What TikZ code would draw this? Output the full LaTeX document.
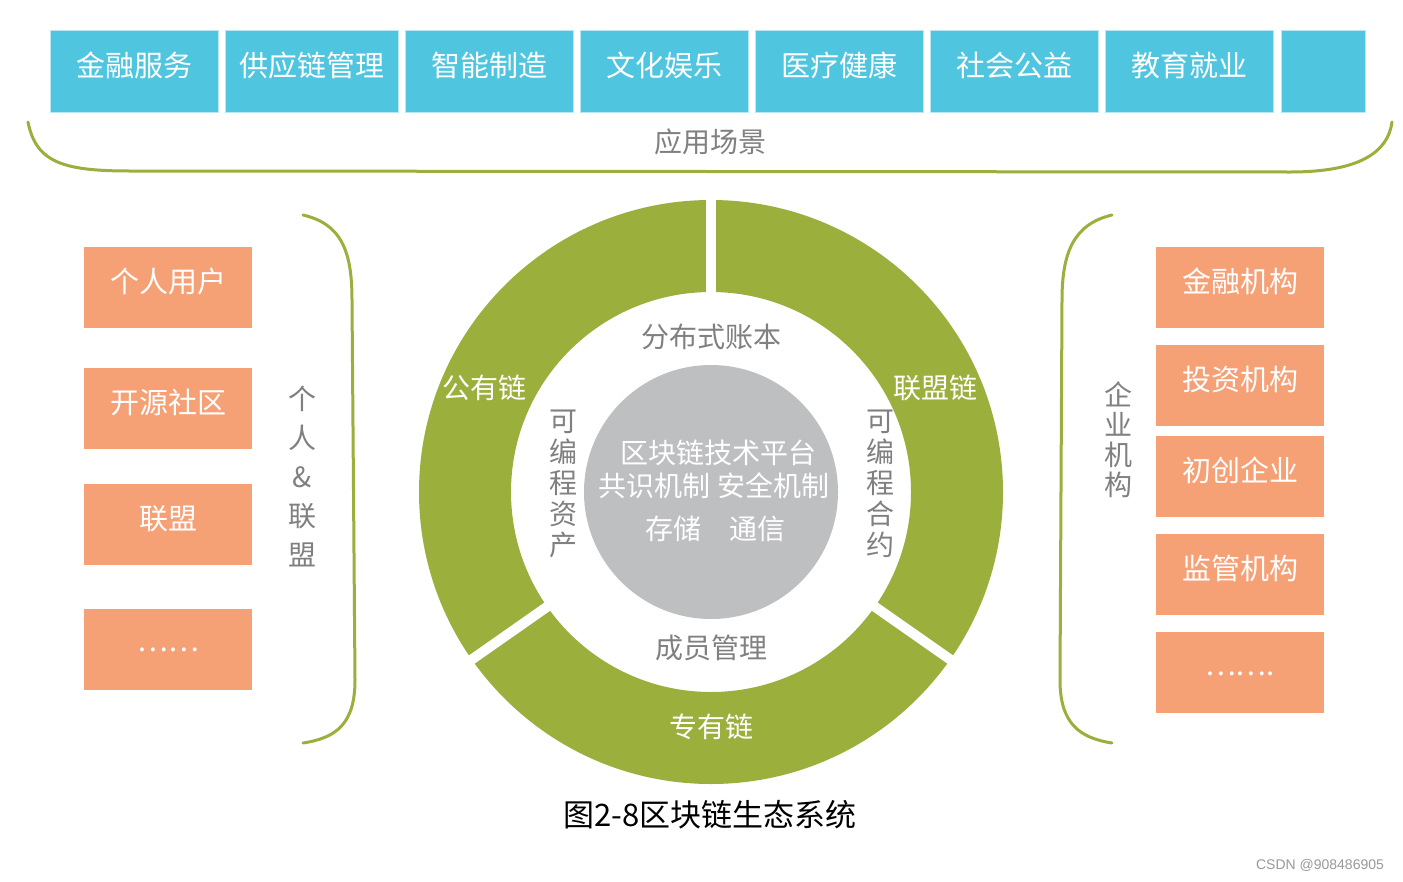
\documentclass[tikz,border=0pt]{standalone}
\usepackage{fontspec}
\setmainfont{Noto Sans CJK SC}
\newfontfamily\latinfont{Liberation Sans}
\usetikzlibrary{calc}
\definecolor{ringgreen}{RGB}{155,175,60}
\definecolor{sceneblue}{RGB}{80,197,223}
\definecolor{roleorange}{RGB}{246,160,118}
\definecolor{coregray}{RGB}{190,191,193}
\definecolor{labelgray}{RGB}{128,128,128}
\newcommand{\fsz}[1]{\fontsize{#1}{#1}\selectfont}

\begin{document}
\begin{tikzpicture}[x=1pt, y=-1pt,
    scenebox/.style={fill=sceneblue, draw=white!60!sceneblue, line width=0.8pt, minimum height=82pt, inner sep=0pt, text=white, font=\fsz{29}, text height=25pt, text depth=15pt},
    rolebox/.style={fill=roleorange, minimum width=168pt, minimum height=81pt, inner sep=0pt, text=white, font=\fsz{29}, text height=25pt, text depth=15pt},
    bracket/.style={ringgreen, line width=3pt, line cap=round},
    graytext/.style={labelgray, font=\fsz{28}, inner sep=0pt},
    whitetext/.style={white, font=\fsz{28}, inner sep=0pt}]
    \useasboundingbox[fill=white] (0,0) rectangle (1403,881);

    % Application scenes
    \node[scenebox, minimum width=168pt] (finance) at (134,71) {金融服务};
    \node[scenebox, minimum width=173pt] (supply) at (311.5,71) {供应链管理};
    \node[scenebox, minimum width=168pt] (manufact) at (489,71) {智能制造};
    \node[scenebox, minimum width=168pt] (culture) at (664,71) {文化娱乐};
    \node[scenebox, minimum width=168pt] (health) at (839,71) {医疗健康};
    \node[scenebox, minimum width=168pt] (welfare) at (1014,71) {社会公益};
    \node[scenebox, minimum width=168pt] (education) at (1189.5,71) {教育就业};
    \node[scenebox, minimum width=84pt] (more) at (1323,71) {};

    % Bracket under the scenes
    \draw[bracket] (28,122) .. controls (36,162) and (62,171) .. (130,171) -- (1290,172) .. controls (1360,172) and (1388,152) .. (1392,122);
    \node[graytext] (scenes) at (710,142) {应用场景};

    % Ring of chains
    \coordinate (hub) at (711,492);
    \fill[ringgreen, even odd rule] (hub) circle[radius=292pt] (hub) circle[radius=200pt];
    \foreach \a in {90,215,325}
        \draw[white, line width=10pt] ($(hub)+(\a:195pt)$) -- ($(hub)+(\a:298pt)$);
    \node[whitetext] (public) at (484,388) {公有链};
    \node[whitetext] (consortium) at (935,388) {联盟链};
    \node[whitetext] (private) at (711,727) {专有链};

    % Inner layer
    \node[graytext] (ledger) at (711,337) {分布式账本};
    \node[graytext] (members) at (711,648) {成员管理};
    \node[graytext, align=center, font=\fontsize{28}{31}\selectfont] (assets) at (563,484) {可\\编\\程\\资\\产};
    \node[graytext, align=center, font=\fontsize{28}{31}\selectfont] (contracts) at (880,484) {可\\编\\程\\合\\约};

    % Core platform
    \node[circle, fill=coregray, minimum size=254pt, inner sep=0pt] (core) at (hub) {};
    \node[whitetext] (platform) at (718,453) {区块链技术平台};
    \node[whitetext] (mechanism) at (714,486) {共识机制 安全机制};
    \node[whitetext] (storage) at (715,529) {存储\quad 通信};

    % Individuals & alliances
    \node[rolebox] (personal) at (168,287.5) {个人用户};
    \node[rolebox] (opensrc) at (168,408.5) {开源社区};
    \node[rolebox] (alliance) at (168,524.5) {联盟};
    \node[rolebox, text depth=20pt] (lmore) at (168,649) {……};
    \draw[bracket] (303,215) .. controls (342,224) and (352,252) .. (352,300) -- (355,680) .. controls (355,724) and (336,738) .. (303,743);
    \node[graytext, align=center, font=\fontsize{28}{39}\selectfont] (individual) at (302,476) {个\\人\\\&\\联\\盟};

    % Enterprises
    \node[rolebox] (finorg) at (1240,287.5) {金融机构};
    \node[rolebox] (invest) at (1240,385.5) {投资机构};
    \node[rolebox] (startup) at (1240,476.5) {初创企业};
    \node[rolebox] (regulator) at (1240,574.5) {监管机构};
    \node[rolebox, text depth=20pt] (rmore) at (1240,672.5) {…….};
    \draw[bracket] (1112,215) .. controls (1074,224) and (1062,252) .. (1062,300) -- (1060,680) .. controls (1060,724) and (1080,738) .. (1112,743);
    \node[graytext, align=center, font=\fontsize{28}{30}\selectfont] (enterprise) at (1118,440) {企\\业\\机\\构};

    % Caption
    \node[font=\fsz{31}] (caption) at (710,815) {图2-8区块链生态系统};
    \node[gray!80, font=\latinfont\fsz{14}] (mark) at (1320,865) {CSDN @908486905};
\end{tikzpicture}
\end{document}
